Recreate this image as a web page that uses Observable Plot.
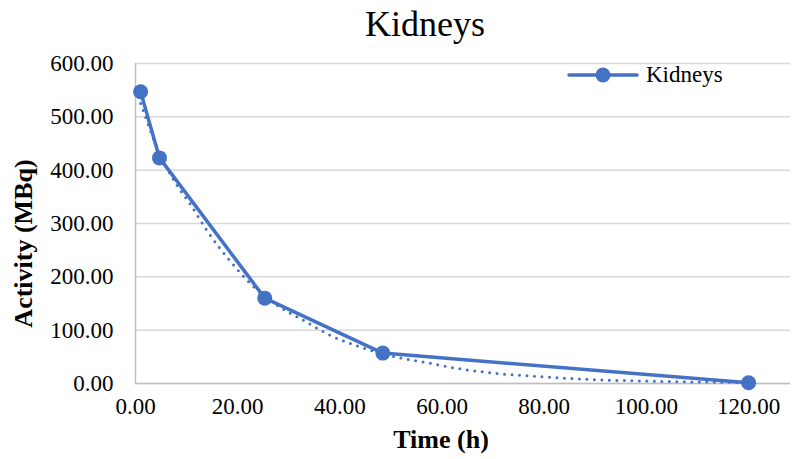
<!DOCTYPE html>
<html>
<head>
<meta charset="utf-8">
<script src="https://cdn.jsdelivr.net/npm/d3@7"></script>
<script src="https://cdn.jsdelivr.net/npm/@observablehq/plot@0.6"></script>
<style>
  html, body { margin: 0; padding: 0; background: #fff; }
  #wrap { position: relative; width: 792px; height: 459px; font-family: "Liberation Serif", "Times New Roman", serif; }
  #title { position: absolute; left: 0; width: 850px; top: 4px; text-align: center; font-size: 36px; color: #000; line-height: 40px; }
  #legend { position: absolute; left: 566px; top: 62px; display: flex; align-items: center; font-size: 23px; color: #000; }
  #legend svg { margin-right: 6px; }
  #chart { position: absolute; left: 0; top: 0; }
  #chart svg, #chart svg text { font-family: "Liberation Serif", "Times New Roman", serif !important; }
</style>
</head>
<body>
<div id="wrap">
  <div id="chart"></div>
  <div id="title">Kidneys</div>
  <div id="legend"><svg width="74" height="20"><line x1="3" y1="10" x2="71" y2="10" stroke="#4472C4" stroke-width="3.5" stroke-linecap="round"/><circle cx="37" cy="10" r="7.5" fill="#4472C4"/></svg><span>Kidneys</span></div>
</div>
<script>
const seriesName = "Kidneys";
const timeH = [1, 4.7, 25.3, 48.4, 120];
const activity = [547, 423, 160, 57, 1.5];

// dotted trendline
const trendTime = [1, 1.8, 3.9, 7.5, 10.8, 14.1, 18.6, 21.9, 27.8, 32.4, 38.2, 44.1, 51.3, 56.5, 63.1, 69.6, 78.8, 89.2, 99, 108.8, 120];
const trendActivity = [525, 504, 449, 381, 335, 285, 229, 193, 146, 121, 90, 68, 49, 40, 28, 20, 13, 7.5, 4.7, 3, 1.8];

const xTicks = [0, 20, 40, 60, 80, 100, 120];
const yTicks = [0, 100, 200, 300, 400, 500, 600];
const xLabel = "Time (h)";
const yLabel = "Activity (MBq)";

const pts = timeH.map((t, i) => ({t, a: activity[i]}));
const trend = trendTime.map((t, i) => ({t, a: trendActivity[i]}));
const fmt = d3.format(".2f");
const serif = "'Liberation Serif', 'Times New Roman', serif";

const chart = Plot.plot({
  width: 792,
  height: 459,
  marginLeft: 135,
  marginRight: 2,
  marginTop: 63,
  marginBottom: 76,
  style: {fontFamily: serif, fontSize: "23px", color: "#000", background: "transparent"},
  x: {domain: [0, 128.2]},
  y: {domain: [0, 600]},
  marks: [
    Plot.gridY(yTicks, {stroke: "#d9d9d9", strokeOpacity: 1, strokeWidth: 1.5}),
    Plot.ruleX([0], {stroke: "#bfbfbf", strokeWidth: 1.5}),
    Plot.ruleY([0], {stroke: "#bfbfbf", strokeWidth: 1.5}),
    Plot.axisY(yTicks, {tickSize: 0, tickPadding: 22, tickFormat: fmt, label: null, fontSize: 23, fontFamily: serif}),
    Plot.axisX(xTicks, {tickSize: 0, tickPadding: 14, tickFormat: fmt, label: null, fontSize: 23, fontFamily: serif}),
    Plot.text([xLabel], {frameAnchor: "bottom", dx: -22, dy: 64, text: d => d, fontWeight: "bold", fontSize: 26, fontFamily: serif}),
    Plot.text([yLabel], {frameAnchor: "left", textAnchor: "middle", dx: -112, dy: 20, rotate: -90, text: d => d, fontWeight: "bold", fontSize: 26, fontFamily: serif}),
    Plot.line(trend, {x: "t", y: "a", curve: "monotone-x", stroke: "#4472C4", strokeWidth: 3, strokeDasharray: "0 7.5", strokeLinecap: "round"}),
    Plot.line(pts, {x: "t", y: "a", stroke: "#4472C4", strokeWidth: 3.5, strokeLinejoin: "round"}),
    Plot.dot(pts, {x: "t", y: "a", r: 7.5, fill: "#4472C4", stroke: null})
  ]
});
document.getElementById("chart").append(chart);
</script>
</body>
</html>
